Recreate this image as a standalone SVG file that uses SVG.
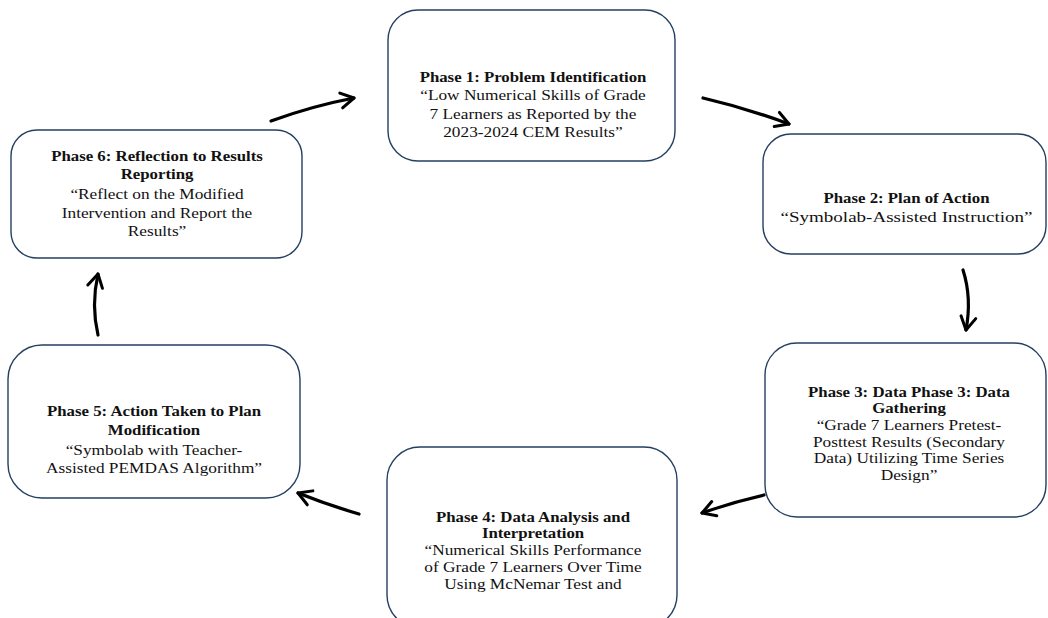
<svg xmlns="http://www.w3.org/2000/svg" width="1048" height="618" viewBox="0 0 1048 618">
<style>
.box{fill:#fff;stroke:#243f60;stroke-width:1.4}
.b{font-family:"Liberation Serif","Times New Roman",serif;font-weight:bold;font-size:13.6px;text-anchor:middle;fill:#111}
.r{font-family:"Liberation Serif","Times New Roman",serif;font-size:14px;text-anchor:middle;fill:#111}
.r2{font-family:"Liberation Serif","Times New Roman",serif;font-size:15.4px;text-anchor:middle;fill:#111}
.arr{fill:none;stroke:#000;stroke-width:3.2;stroke-linecap:round;marker-end:url(#ah)}
</style>
<defs>
<marker id="ah" markerUnits="userSpaceOnUse" viewBox="-16 -9 18 18" refX="0" refY="0" markerWidth="18" markerHeight="18" orient="auto" overflow="visible">
<path d="M-13,-7.5 L0,0 L-13,7.5" fill="none" stroke="#000" stroke-width="3" stroke-linecap="round" stroke-linejoin="round"/>
</marker>
</defs>
<rect width="1048" height="618" fill="#fff"/>
<g id="connectors">
<path class="arr" d="M703,98 Q746,108 789,124"/>
<path class="arr" d="M963,270 Q972,298 966,330"/>
<path class="arr" d="M764,495 Q733,502 702,513"/>
<path class="arr" d="M359,514 Q328,505 298,493"/>
<path class="arr" d="M98,335 Q91,305 98,274"/>
<path class="arr" d="M271,121 Q312,106 354,98"/>
</g>
<g id="phase1">
<rect class="box" x="388" y="10" width="287" height="151" rx="30"/>
<g transform="translate(533,0) scale(1.236,1)">
<text class="b" x="0" y="82">Phase 1: Problem Identification</text>
<text class="r" x="0" y="100.5">“Low Numerical Skills of Grade</text>
<text class="r" x="0" y="119">7 Learners as Reported by the</text>
<text class="r" x="0" y="137.5">2023-2024 CEM Results”</text>
</g>
</g>
<g id="phase2">
<rect class="box" x="763" y="134" width="283" height="120" rx="28"/>
<g transform="translate(906.5,0) scale(1.236,1)">
<text class="b" x="0" y="203">Phase 2: Plan of Action</text>
<text class="r2" x="0" y="222">“Symbolab-Assisted Instruction”</text>
</g>
</g>
<g id="phase3">
<rect class="box" x="765" y="343" width="281" height="174" rx="32"/>
<g transform="translate(909,0) scale(1.236,1)">
<text class="b" x="0" y="397">Phase 3: Data Phase 3: Data</text>
<text class="b" x="0" y="413">Gathering</text>
<text class="r" x="0" y="430">“Grade 7 Learners Pretest-</text>
<text class="r" x="0" y="447">Posttest Results (Secondary</text>
<text class="r" x="0" y="463.5">Data) Utilizing Time Series</text>
<text class="r" x="0" y="480">Design”</text>
</g>
</g>
<g id="phase4">
<rect class="box" x="387" y="447" width="290" height="181" rx="33"/>
<g transform="translate(533,0) scale(1.236,1)">
<text class="b" x="0" y="522">Phase 4: Data Analysis and</text>
<text class="b" x="0" y="538">Interpretation</text>
<text class="r" x="0" y="555">“Numerical Skills Performance</text>
<text class="r" x="0" y="572">of Grade 7 Learners Over Time</text>
<text class="r" x="0" y="589">Using McNemar Test and</text>
</g>
</g>
<g id="phase5">
<rect class="box" x="8" y="345" width="292" height="153" rx="34"/>
<g transform="translate(154,0) scale(1.236,1)">
<text class="b" x="0" y="416">Phase 5: Action Taken to Plan</text>
<text class="b" x="0" y="435">Modification</text>
<text class="r" x="0" y="455">“Symbolab with Teacher-</text>
<text class="r" x="0" y="473">Assisted PEMDAS Algorithm”</text>
</g>
</g>
<g id="phase6">
<rect class="box" x="11" y="130" width="291" height="128" rx="26"/>
<g transform="translate(157,0) scale(1.236,1)">
<text class="b" x="0" y="161">Phase 6: Reflection to Results</text>
<text class="b" x="0" y="179">Reporting</text>
<text class="r" x="0" y="199">“Reflect on the Modified</text>
<text class="r" x="0" y="218">Intervention and Report the</text>
<text class="r" x="0" y="236">Results”</text>
</g>
</g>
</svg>
